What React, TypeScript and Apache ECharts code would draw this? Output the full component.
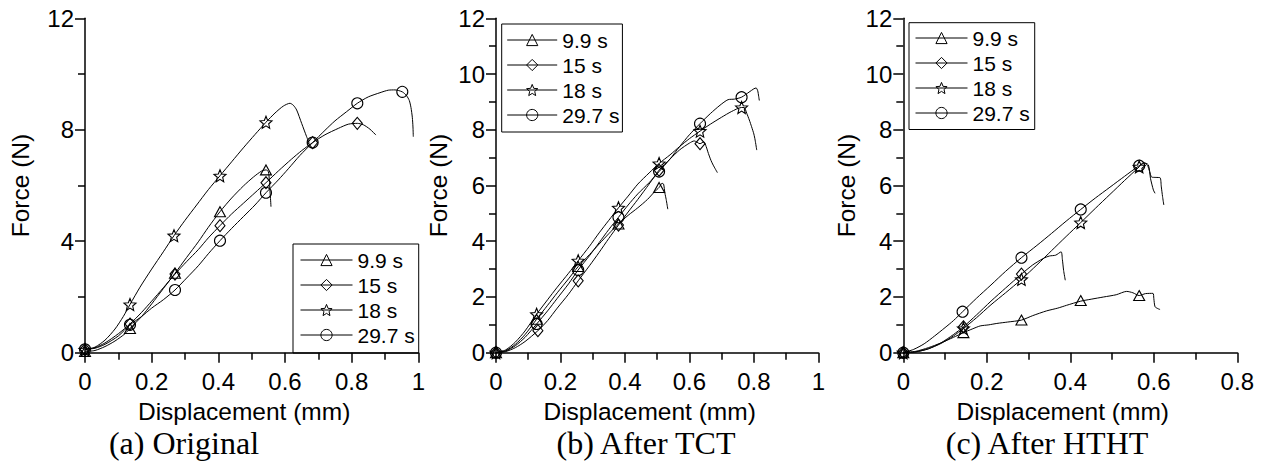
import React, { useEffect, useRef } from "react";
import * as echarts from "echarts";

// ---------- data ----------
const seriesNames = ["9.9 s", "15 s", "18 s", "29.7 s"];
const captions = ["(a) Original", "(b) After TCT", "(c) After HTHT"];
const xMaxes = [1, 1, 0.8];
const yIntervals = [4, 2, 2];

// (a) Original
const aTriCurve = [[0,0.04],[0.03,0.08],[0.06,0.22],[0.09,0.42],[0.12,0.68],[0.135,0.87],[0.17,1.3],[0.2,1.75],[0.235,2.3],[0.27,2.85],[0.305,3.42],[0.34,3.98],[0.37,4.5],[0.405,5.06],[0.44,5.55],[0.475,5.98],[0.505,6.3],[0.53,6.52],[0.543,6.56],[0.55,6.5],[0.553,6.2],[0.555,5.8],[0.557,5.45],[0.558,5.24]];
const aTriMarks = [[0,0.04],[0.135,0.87],[0.27,2.85],[0.405,5.06],[0.543,6.56]];
const aDiaCurve = [[0,0.12],[0.03,0.18],[0.06,0.35],[0.1,0.68],[0.135,1.03],[0.17,1.45],[0.2,1.85],[0.235,2.33],[0.27,2.82],[0.305,3.27],[0.34,3.7],[0.37,4.12],[0.405,4.56],[0.44,4.98],[0.475,5.36],[0.51,5.74],[0.543,6.1],[0.58,6.52],[0.62,6.95],[0.65,7.25],[0.683,7.54],[0.72,7.82],[0.76,8.05],[0.79,8.2],[0.817,8.23],[0.835,8.18],[0.855,8.02],[0.873,7.81]];
const aDiaMarks = [[0,0.12],[0.135,1.03],[0.27,2.82],[0.405,4.56],[0.543,6.1],[0.683,7.54],[0.817,8.23]];
const aStarCurve = [[0,0.1],[0.03,0.2],[0.06,0.45],[0.09,0.85],[0.115,1.3],[0.135,1.73],[0.165,2.35],[0.2,3.0],[0.235,3.62],[0.267,4.2],[0.3,4.75],[0.335,5.3],[0.37,5.85],[0.405,6.35],[0.44,6.85],[0.475,7.35],[0.51,7.83],[0.543,8.27],[0.57,8.6],[0.595,8.85],[0.615,8.95],[0.625,8.88],[0.635,8.71],[0.65,8.23],[0.665,7.75],[0.673,7.51]];
const aStarMarks = [[0,0.1],[0.135,1.73],[0.267,4.2],[0.405,6.35],[0.543,8.27]];
const aCirCurve = [[0,0.12],[0.03,0.16],[0.06,0.3],[0.1,0.6],[0.135,1.0],[0.17,1.3],[0.2,1.6],[0.235,1.9],[0.27,2.25],[0.305,2.68],[0.34,3.12],[0.37,3.55],[0.405,4.02],[0.44,4.46],[0.475,4.88],[0.51,5.3],[0.543,5.74],[0.58,6.2],[0.61,6.6],[0.645,7.08],[0.683,7.54],[0.72,7.98],[0.75,8.32],[0.785,8.65],[0.817,8.95],[0.85,9.18],[0.885,9.33],[0.91,9.42],[0.93,9.43],[0.952,9.36],[0.965,9.22],[0.973,9.05],[0.978,8.8],[0.982,8.45],[0.984,8.1],[0.985,7.75]];
const aCirMarks = [[0,0.12],[0.135,1.0],[0.27,2.25],[0.405,4.02],[0.543,5.74],[0.683,7.54],[0.817,8.95],[0.952,9.36]];

// (b) After TCT
const bTriCurve = [[0,0],[0.03,0.07],[0.06,0.3],[0.09,0.65],[0.126,1.2],[0.16,1.7],[0.19,2.15],[0.225,2.65],[0.255,3.09],[0.29,3.52],[0.32,3.9],[0.35,4.27],[0.38,4.62],[0.41,4.93],[0.44,5.2],[0.47,5.5],[0.49,5.75],[0.506,5.93],[0.515,6.08],[0.52,6.05],[0.524,5.73],[0.528,5.5],[0.533,5.15]];
const bTriMarks = [[0,0],[0.126,1.2],[0.255,3.09],[0.38,4.62],[0.506,5.93]];
const bDiaCurve = [[0,0],[0.03,0.04],[0.06,0.18],[0.09,0.4],[0.13,0.79],[0.16,1.15],[0.19,1.6],[0.225,2.1],[0.255,2.58],[0.29,3.12],[0.32,3.6],[0.35,4.1],[0.38,4.58],[0.41,5.05],[0.44,5.5],[0.475,6.05],[0.506,6.55],[0.54,6.95],[0.57,7.28],[0.6,7.52],[0.615,7.6],[0.633,7.5],[0.645,7.57],[0.652,7.4],[0.659,7.15],[0.667,6.9],[0.674,6.73],[0.687,6.46]];
const bDiaMarks = [[0,0],[0.13,0.79],[0.255,2.58],[0.38,4.58],[0.506,6.55],[0.633,7.5]];
const bStarCurve = [[0,0],[0.03,0.1],[0.06,0.38],[0.09,0.78],[0.126,1.38],[0.16,1.9],[0.19,2.35],[0.225,2.85],[0.255,3.3],[0.29,3.82],[0.32,4.3],[0.35,4.75],[0.38,5.2],[0.41,5.62],[0.44,6.05],[0.475,6.45],[0.506,6.79],[0.54,7.1],[0.57,7.4],[0.6,7.68],[0.633,7.95],[0.665,8.2],[0.7,8.45],[0.73,8.65],[0.762,8.8],[0.77,8.8],[0.778,8.59],[0.786,8.35],[0.793,8.11],[0.8,7.85],[0.804,7.63],[0.809,7.27]];
const bStarMarks = [[0,0],[0.126,1.38],[0.255,3.3],[0.38,5.2],[0.506,6.79],[0.633,7.95],[0.762,8.8]];
const bCirCurve = [[0,0],[0.03,0.06],[0.06,0.25],[0.09,0.55],[0.126,1.03],[0.16,1.5],[0.19,1.95],[0.225,2.47],[0.255,2.97],[0.29,3.48],[0.32,3.95],[0.35,4.42],[0.38,4.86],[0.41,5.3],[0.44,5.7],[0.475,6.1],[0.506,6.5],[0.54,6.95],[0.57,7.4],[0.6,7.82],[0.633,8.22],[0.665,8.58],[0.695,8.88],[0.72,9.08],[0.74,9.1],[0.762,9.17],[0.785,9.35],[0.8,9.47],[0.807,9.5],[0.812,9.4],[0.815,9.2],[0.817,9.05]];
const bCirMarks = [[0,0],[0.126,1.03],[0.255,2.97],[0.38,4.86],[0.506,6.5],[0.633,8.22],[0.762,9.17]];

// (c) After HTHT
const cTriCurve = [[0,0],[0.03,0.05],[0.06,0.18],[0.09,0.35],[0.12,0.55],[0.144,0.72],[0.165,0.85],[0.184,0.96],[0.205,1.0],[0.224,1.05],[0.25,1.1],[0.283,1.17],[0.31,1.33],[0.343,1.5],[0.37,1.6],[0.391,1.7],[0.425,1.85],[0.45,1.92],[0.48,2.0],[0.51,2.08],[0.535,2.2],[0.55,2.15],[0.565,2.05],[0.58,2.12],[0.598,2.13],[0.6,1.95],[0.603,1.65],[0.61,1.58],[0.615,1.55]];
const cTriMarks = [[0,0],[0.144,0.72],[0.283,1.17],[0.425,1.87],[0.565,2.05]];
const cDiaCurve = [[0,0],[0.03,0.03],[0.06,0.14],[0.09,0.35],[0.12,0.65],[0.144,0.93],[0.175,1.35],[0.21,1.85],[0.245,2.32],[0.283,2.82],[0.31,3.15],[0.335,3.38],[0.35,3.47],[0.365,3.5],[0.378,3.62],[0.381,3.35],[0.384,2.95],[0.388,2.6]];
const cDiaMarks = [[0,0],[0.144,0.93],[0.283,2.82]];
const cStarCurve = [[0,0],[0.03,0.03],[0.06,0.14],[0.09,0.33],[0.12,0.6],[0.144,0.87],[0.175,1.25],[0.21,1.72],[0.245,2.15],[0.283,2.63],[0.32,3.15],[0.355,3.66],[0.39,4.17],[0.425,4.67],[0.46,5.18],[0.495,5.68],[0.53,6.18],[0.565,6.67],[0.575,6.82],[0.587,6.74],[0.592,6.26],[0.599,5.84],[0.603,5.72]];
const cStarMarks = [[0,0],[0.144,0.87],[0.283,2.63],[0.425,4.67],[0.565,6.67]];
const cCirCurve = [[0,0],[0.025,0.12],[0.05,0.32],[0.075,0.6],[0.1,0.9],[0.12,1.15],[0.142,1.47],[0.175,1.95],[0.21,2.43],[0.245,2.92],[0.283,3.41],[0.32,3.85],[0.355,4.28],[0.39,4.72],[0.425,5.14],[0.46,5.55],[0.495,5.94],[0.53,6.33],[0.565,6.71],[0.578,6.8],[0.585,6.72],[0.59,6.5],[0.595,6.3],[0.605,6.29],[0.615,6.28],[0.618,5.95],[0.621,5.6],[0.624,5.3]];
const cCirMarks = [[0,0],[0.142,1.47],[0.283,3.41],[0.425,5.14],[0.565,6.71]];

const panelCurves = [
  [aTriCurve, aDiaCurve, aStarCurve, aCirCurve],
  [bTriCurve, bDiaCurve, bStarCurve, bCirCurve],
  [cTriCurve, cDiaCurve, cStarCurve, cCirCurve],
];
const panelMarks = [
  [aTriMarks, aDiaMarks, aStarMarks, aCirMarks],
  [bTriMarks, bDiaMarks, bStarMarks, bCirMarks],
  [cTriMarks, cDiaMarks, cStarMarks, cCirMarks],
];

// ---------- styling ----------
const SANS = '"Liberation Sans", Arial, sans-serif';
const SERIF = '"Liberation Serif", "Times New Roman", serif';
const STAR =
  "path://M0,-10L2.645,-3.64L9.51,-3.09L4.28,1.39L5.88,8.09L0,4.5L-5.88,8.09L-4.28,1.39L-9.51,-3.09L-2.645,-3.64Z";
const symbols = ["triangle", "diamond", STAR, "circle"];
const symbolSizes: any[] = [[11, 10], [10, 12], 12, 11];

const grids = [
  { left: 85, top: 18.3, width: 333.3, height: 334.4 },
  { left: 496, top: 18.3, width: 322.3, height: 334.4 },
  { left: 903.3, top: 18.3, width: 334, height: 334.4 },
];
const yNameGaps = [52, 45, 44];
const legendBoxes = [
  { left: 293, top: 244, padding: [5.5, 4, 7.5, 7], itemWidth: 52 },
  { left: 501.7, top: 24, padding: [5.5, 3, 6.5, 5], itemWidth: 50 },
  { left: 909, top: 22.7, padding: [4.8, 5, 6, 6], itemWidth: 52 },
];
const captionX = [184, 646, 1047];

export default function App() {
  const ref = useRef<HTMLDivElement>(null);
  useEffect(() => {
    if (!ref.current) return;
    const chart = echarts.init(ref.current, undefined, { renderer: "svg" });
    const axisLineStyle = { color: "#000", width: 1.5 };

    const xAxis = grids.map((_, p) => ({
      gridIndex: p,
      type: "value",
      min: 0,
      max: xMaxes[p],
      interval: 0.2,
      axisLine: { show: true, onZero: false, lineStyle: axisLineStyle },
      axisTick: { show: true, length: 10, lineStyle: axisLineStyle },
      minorTick: { show: true, splitNumber: 2, length: 7, lineStyle: axisLineStyle },
      splitLine: { show: false },
      minorSplitLine: { show: false },
      axisLabel: { margin: 17, fontSize: 24, fontFamily: SANS, color: "#000" },
      name: "Displacement (mm)",
      nameLocation: "middle",
      nameGap: 46,
      nameMoveOverlap: false,
      nameTextStyle: { fontSize: 24.5, fontFamily: SANS, color: "#000", padding: [0, 15, 0, 0] },
    }));
    const yAxis = grids.map((_, p) => ({
      gridIndex: p,
      type: "value",
      min: 0,
      max: 12,
      interval: yIntervals[p],
      axisLine: { show: true, onZero: false, lineStyle: axisLineStyle },
      axisTick: { show: true, length: 10, lineStyle: axisLineStyle },
      minorTick: { show: true, splitNumber: 2, length: 7, lineStyle: axisLineStyle },
      splitLine: { show: false },
      minorSplitLine: { show: false },
      axisLabel: { margin: 11, fontSize: 24, fontFamily: SANS, color: "#000" },
      name: "Force (N)",
      nameLocation: "middle",
      nameGap: yNameGaps[p],
      nameMoveOverlap: false,
      nameTextStyle: { fontSize: 24.5, fontFamily: SANS, color: "#000" },
    }));

    const series: any[] = [];
    panelCurves.forEach((curves, p) => {
      curves.forEach((curve, s) => {
        series.push({
          type: "line",
          name: seriesNames[s] + " curve " + (p + 1),
          xAxisIndex: p,
          yAxisIndex: p,
          data: curve,
          symbol: "none",
          showSymbol: false,
          smooth: 0.25,
          clip: false,
          silent: true,
          lineStyle: { color: "#000", width: 1 },
          emphasis: { disabled: true },
          z: 2,
        });
      });
    });
    panelMarks.forEach((marks, p) => {
      marks.forEach((m, s) => {
        series.push({
          type: "line",
          name: seriesNames[s],
          xAxisIndex: p,
          yAxisIndex: p,
          data: m,
          symbol: symbols[s],
          symbolSize: symbolSizes[s],
          showSymbol: true,
          clip: false,
          silent: true,
          lineStyle: { width: 0, opacity: 0 },
          itemStyle: { color: "rgba(0,0,0,0)", borderColor: "#000", borderWidth: 1.1 },
          emphasis: { disabled: true },
          z: 3,
        });
      });
    });

    const legend = legendBoxes.map((b) => ({
      orient: "vertical",
      left: b.left,
      top: b.top,
      padding: b.padding,
      itemWidth: b.itemWidth,
      itemHeight: 14,
      itemGap: 4,
      selectedMode: false,
      borderColor: "#000",
      borderWidth: 1,
      data: seriesNames,
      textStyle: { fontSize: 21, fontFamily: SANS, color: "#000", lineHeight: 21 },
      lineStyle: { color: "#000", width: 1, opacity: 1, type: "solid" },
      itemStyle: { color: "rgba(0,0,0,0)", borderColor: "#000", borderWidth: 1 },
    }));

    const graphic = captions.map((t, i) => ({
      type: "text",
      x: captionX[i],
      y: 443,
      silent: true,
      style: {
        text: t,
        fontSize: 32,
        fontFamily: SERIF,
        fill: "#000",
        align: "center",
        verticalAlign: "middle",
        textAlign: "center",
        textVerticalAlign: "middle",
      },
    }));

    chart.setOption({
      animation: false,
      backgroundColor: "#fff",
      grid: grids.map((g) => ({ ...g, containLabel: false, outerBoundsMode: "none" })),
      xAxis,
      yAxis,
      legend,
      series,
      graphic,
    } as any);
    return () => chart.dispose();
  }, []);
  return (
    <div
      ref={ref}
      style={{ position: "absolute", left: 0, top: 0, width: 1263, height: 461, background: "#fff" }}
    />
  );
}
